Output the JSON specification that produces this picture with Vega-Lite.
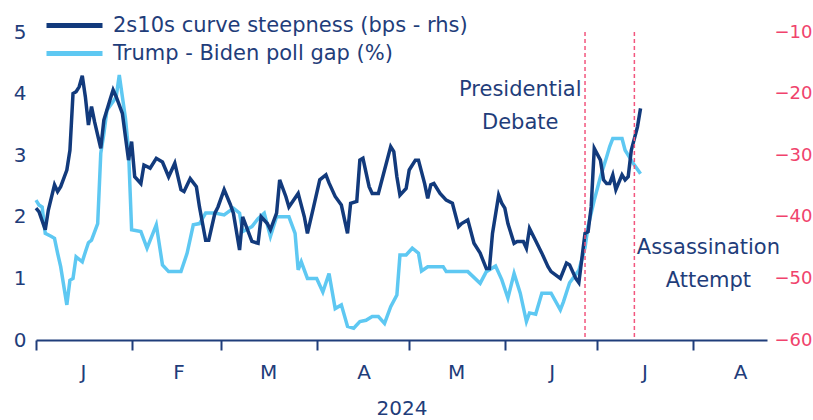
{
  "$schema": "https://vega.github.io/schema/vega-lite/v6.json",
  "width": 731,
  "height": 308,
  "autosize": {"type": "none"},
  "padding": {"left": 36, "top": 32, "right": 46, "bottom": 80},
  "config": {"view": {"stroke": null}, "font": "DejaVu Sans", "axis": {"grid": false}},
  "datasets": {
    "poll": [
      {"d":"2024-01-01","v":2.27},{"d":"2024-01-02","v":2.19},{"d":"2024-01-03","v":2.16},{"d":"2024-01-04","v":1.73},{"d":"2024-01-06","v":1.68},{"d":"2024-01-07","v":1.65},{"d":"2024-01-08","v":1.41},{"d":"2024-01-09","v":1.19},{"d":"2024-01-11","v":0.57},{"d":"2024-01-12","v":0.97},{"d":"2024-01-13","v":1.0},{"d":"2024-01-14","v":1.35},{"d":"2024-01-16","v":1.27},{"d":"2024-01-17","v":1.43},{"d":"2024-01-18","v":1.58},{"d":"2024-01-19","v":1.62},{"d":"2024-01-21","v":1.89},{"d":"2024-01-22","v":3.03},{"d":"2024-01-23","v":3.35},{"d":"2024-01-24","v":3.73},{"d":"2024-01-26","v":3.87},{"d":"2024-01-27","v":3.95},{"d":"2024-01-28","v":4.30},{"d":"2024-01-29","v":3.95},{"d":"2024-01-30","v":3.60},{"d":"2024-01-31","v":3.08},{"d":"2024-02-01","v":1.79},{"d":"2024-02-04","v":1.76},{"d":"2024-02-06","v":1.49},{"d":"2024-02-09","v":1.87},{"d":"2024-02-11","v":1.22},{"d":"2024-02-13","v":1.11},{"d":"2024-02-17","v":1.11},{"d":"2024-02-19","v":1.41},{"d":"2024-02-21","v":1.87},{"d":"2024-02-23","v":1.89},{"d":"2024-02-25","v":2.06},{"d":"2024-02-28","v":2.06},{"d":"2024-03-02","v":2.03},{"d":"2024-03-05","v":2.14},{"d":"2024-03-07","v":2.06},{"d":"2024-03-08","v":1.76},{"d":"2024-03-11","v":1.84},{"d":"2024-03-13","v":1.97},{"d":"2024-03-15","v":2.06},{"d":"2024-03-17","v":1.68},{"d":"2024-03-19","v":2.0},{"d":"2024-03-23","v":2.0},{"d":"2024-03-25","v":1.73},{"d":"2024-03-26","v":1.14},{"d":"2024-03-27","v":1.27},{"d":"2024-03-29","v":1.0},{"d":"2024-04-01","v":1.0},{"d":"2024-04-03","v":0.78},{"d":"2024-04-05","v":1.08},{"d":"2024-04-07","v":0.51},{"d":"2024-04-09","v":0.57},{"d":"2024-04-11","v":0.22},{"d":"2024-04-13","v":0.19},{"d":"2024-04-15","v":0.30},{"d":"2024-04-17","v":0.32},{"d":"2024-04-19","v":0.38},{"d":"2024-04-21","v":0.38},{"d":"2024-04-23","v":0.27},{"d":"2024-04-25","v":0.54},{"d":"2024-04-27","v":0.73},{"d":"2024-04-28","v":1.38},{"d":"2024-04-30","v":1.38},{"d":"2024-05-02","v":1.49},{"d":"2024-05-04","v":1.41},{"d":"2024-05-05","v":1.12},{"d":"2024-05-07","v":1.19},{"d":"2024-05-12","v":1.19},{"d":"2024-05-13","v":1.11},{"d":"2024-05-20","v":1.11},{"d":"2024-05-24","v":0.92},{"d":"2024-05-26","v":1.11},{"d":"2024-05-29","v":1.20},{"d":"2024-05-31","v":0.98},{"d":"2024-06-02","v":0.68},{"d":"2024-06-04","v":1.08},{"d":"2024-06-06","v":0.76},{"d":"2024-06-08","v":0.30},{"d":"2024-06-09","v":0.44},{"d":"2024-06-11","v":0.42},{"d":"2024-06-13","v":0.76},{"d":"2024-06-16","v":0.76},{"d":"2024-06-19","v":0.49},{"d":"2024-06-20","v":0.62},{"d":"2024-06-22","v":0.93},{"d":"2024-06-25","v":1.13},{"d":"2024-06-27","v":1.5},{"d":"2024-06-28","v":1.85},{"d":"2024-06-30","v":2.27},{"d":"2024-07-02","v":2.65},{"d":"2024-07-04","v":2.97},{"d":"2024-07-05","v":3.14},{"d":"2024-07-06","v":3.27},{"d":"2024-07-09","v":3.27},{"d":"2024-07-10","v":3.08},{"d":"2024-07-12","v":2.92},{"d":"2024-07-13","v":2.84},{"d":"2024-07-15","v":2.70}
    ],
    "steep": [
      {"d":"2024-01-01","v":-38.6},{"d":"2024-01-02","v":-39.2},{"d":"2024-01-04","v":-42.1},{"d":"2024-01-05","v":-38.9},{"d":"2024-01-07","v":-34.8},{"d":"2024-01-08","v":-35.9},{"d":"2024-01-09","v":-35.1},{"d":"2024-01-11","v":-32.4},{"d":"2024-01-12","v":-29.2},{"d":"2024-01-13","v":-20.0},{"d":"2024-01-14","v":-19.7},{"d":"2024-01-15","v":-18.9},{"d":"2024-01-16","v":-17.1},{"d":"2024-01-17","v":-20.5},{"d":"2024-01-18","v":-25.1},{"d":"2024-01-19","v":-22.1},{"d":"2024-01-20","v":-24.6},{"d":"2024-01-22","v":-28.9},{"d":"2024-01-23","v":-24.3},{"d":"2024-01-25","v":-21.0},{"d":"2024-01-26","v":-19.4},{"d":"2024-01-27","v":-20.5},{"d":"2024-01-29","v":-23.2},{"d":"2024-01-30","v":-27.0},{"d":"2024-01-31","v":-30.8},{"d":"2024-02-01","v":-27.8},{"d":"2024-02-02","v":-33.5},{"d":"2024-02-04","v":-34.6},{"d":"2024-02-05","v":-31.6},{"d":"2024-02-07","v":-32.1},{"d":"2024-02-09","v":-30.5},{"d":"2024-02-11","v":-31.1},{"d":"2024-02-13","v":-33.5},{"d":"2024-02-15","v":-31.3},{"d":"2024-02-17","v":-35.6},{"d":"2024-02-18","v":-35.9},{"d":"2024-02-20","v":-33.8},{"d":"2024-02-22","v":-35.1},{"d":"2024-02-23","v":-38.4},{"d":"2024-02-25","v":-43.8},{"d":"2024-02-26","v":-43.8},{"d":"2024-02-28","v":-39.4},{"d":"2024-02-29","v":-38.4},{"d":"2024-03-02","v":-35.6},{"d":"2024-03-04","v":-38.0},{"d":"2024-03-05","v":-39.4},{"d":"2024-03-07","v":-45.4},{"d":"2024-03-08","v":-40.0},{"d":"2024-03-11","v":-44.0},{"d":"2024-03-13","v":-44.3},{"d":"2024-03-14","v":-40.0},{"d":"2024-03-16","v":-41.1},{"d":"2024-03-17","v":-42.1},{"d":"2024-03-19","v":-39.4},{"d":"2024-03-20","v":-34.0},{"d":"2024-03-22","v":-36.7},{"d":"2024-03-23","v":-38.4},{"d":"2024-03-26","v":-36.2},{"d":"2024-03-28","v":-40.0},{"d":"2024-03-29","v":-42.7},{"d":"2024-03-31","v":-38.4},{"d":"2024-04-02","v":-34.0},{"d":"2024-04-04","v":-33.2},{"d":"2024-04-05","v":-34.5},{"d":"2024-04-07","v":-36.7},{"d":"2024-04-09","v":-38.1},{"d":"2024-04-11","v":-42.7},{"d":"2024-04-12","v":-37.8},{"d":"2024-04-14","v":-37.5},{"d":"2024-04-15","v":-30.8},{"d":"2024-04-16","v":-30.5},{"d":"2024-04-18","v":-35.1},{"d":"2024-04-19","v":-36.2},{"d":"2024-04-21","v":-36.2},{"d":"2024-04-23","v":-32.4},{"d":"2024-04-25","v":-28.6},{"d":"2024-04-26","v":-29.4},{"d":"2024-04-27","v":-33.5},{"d":"2024-04-28","v":-36.5},{"d":"2024-04-30","v":-35.4},{"d":"2024-05-01","v":-32.4},{"d":"2024-05-03","v":-30.8},{"d":"2024-05-04","v":-30.8},{"d":"2024-05-06","v":-34.6},{"d":"2024-05-07","v":-37.0},{"d":"2024-05-08","v":-34.8},{"d":"2024-05-09","v":-34.6},{"d":"2024-05-11","v":-36.2},{"d":"2024-05-13","v":-37.3},{"d":"2024-05-15","v":-37.8},{"d":"2024-05-17","v":-41.6},{"d":"2024-05-18","v":-41.1},{"d":"2024-05-20","v":-40.5},{"d":"2024-05-22","v":-44.3},{"d":"2024-05-24","v":-45.9},{"d":"2024-05-26","v":-48.4},{"d":"2024-05-27","v":-48.4},{"d":"2024-05-28","v":-42.7},{"d":"2024-05-30","v":-36.5},{"d":"2024-05-31","v":-37.8},{"d":"2024-06-01","v":-38.6},{"d":"2024-06-02","v":-41.1},{"d":"2024-06-04","v":-44.3},{"d":"2024-06-05","v":-44.0},{"d":"2024-06-07","v":-44.0},{"d":"2024-06-08","v":-45.1},{"d":"2024-06-09","v":-41.9},{"d":"2024-06-11","v":-43.9},{"d":"2024-06-13","v":-45.9},{"d":"2024-06-15","v":-48.1},{"d":"2024-06-16","v":-48.9},{"d":"2024-06-19","v":-50.0},{"d":"2024-06-21","v":-47.5},{"d":"2024-06-22","v":-47.8},{"d":"2024-06-24","v":-50.0},{"d":"2024-06-25","v":-50.7},{"d":"2024-06-27","v":-42.7},{"d":"2024-06-28","v":-42.4},{"d":"2024-06-29","v":-38.4},{"d":"2024-06-30","v":-28.9},{"d":"2024-07-02","v":-30.8},{"d":"2024-07-03","v":-34.0},{"d":"2024-07-04","v":-34.6},{"d":"2024-07-05","v":-34.6},{"d":"2024-07-06","v":-33.2},{"d":"2024-07-07","v":-35.6},{"d":"2024-07-09","v":-33.2},{"d":"2024-07-10","v":-34.0},{"d":"2024-07-11","v":-33.5},{"d":"2024-07-12","v":-29.2},{"d":"2024-07-14","v":-25.4},{"d":"2024-07-15","v":-22.4}
    ],
    "events": [{"d":"2024-06-27"},{"d":"2024-07-13"}],
    "notes": [
      {"d":"2024-06-06","y":4.06,"t":"Presidential|Debate"},
      {"d":"2024-08-06","y":1.49,"t":"Assassination|Attempt"}
    ]
  },
  "layer": [
    {
      "data": {"name": "poll"},
      "mark": {"type": "line", "strokeWidth": 3.5, "interpolate": "linear"},
      "encoding": {
        "x": {"field": "d", "type": "temporal",
          "scale": {"type": "utc", "domain": ["2024-01-01", "2024-08-25"]},
          "axis": {
            "values": [
              {"year":2024,"month":1,"date":1,"utc":true},{"year":2024,"month":2,"date":1,"utc":true},{"year":2024,"month":3,"date":1,"utc":true},{"year":2024,"month":4,"date":1,"utc":true},{"year":2024,"month":5,"date":1,"utc":true},{"year":2024,"month":6,"date":1,"utc":true},{"year":2024,"month":7,"date":1,"utc":true},{"year":2024,"month":8,"date":1,"utc":true}
            ],
            "labelExpr": "slice(utcFormat(datum.value, '%b'), 0, 1)",
            "domainColor": "#1f3d7a", "domainWidth": 2,
            "tickColor": "#1f3d7a", "tickWidth": 2, "tickSize": 10,
            "labelColor": "#1f3d7a", "labelFontSize": 20, "labelOffset": 47, "labelPadding": 12,
            "labelAlign": "center", "labelOverlap": false, "labelBound": false, "labelFlush": false,
            "title": "2024", "titleFontSize": 20, "titleColor": "#1f3d7a", "titleFontWeight": "normal", "titlePadding": 16
          }
        },
        "y": {"field": "v", "type": "quantitative",
          "scale": {"domain": [0, 5], "nice": false, "zero": false},
          "axis": {"orient": "left", "values": [0,1,2,3,4,5], "domain": false, "ticks": false,
            "labelColor": "#1f3d7a", "labelFontSize": 20, "labelPadding": 10, "title": null}
        },
        "color": {"datum": "Trump - Biden poll gap (%)", "type": "nominal",
          "scale": {"domain": ["2s10s curve steepness (bps - rhs)", "Trump - Biden poll gap (%)"], "range": ["#123a7c", "#5ec8f2"]},
          "legend": {"orient": "none", "legendX": 8, "legendY": -17, "title": null,
            "symbolType": "stroke", "symbolSize": 3136, "symbolStrokeWidth": 5, "clipHeight": 21,
            "labelFontSize": 21, "labelColor": "#1f3d7a", "labelLimit": 0, "rowPadding": 6, "labelOffset": 8}
        }
      }
    },
    {
      "data": {"name": "steep"},
      "mark": {"type": "line", "strokeWidth": 3.5},
      "encoding": {
        "x": {"field": "d", "type": "temporal"},
        "y": {"field": "v", "type": "quantitative",
          "scale": {"domain": [-60, -10], "nice": false, "zero": false},
          "axis": {"orient": "right", "values": [-60,-50,-40,-30,-20,-10], "domain": false, "ticks": false,
            "labelColor": "#f0436c", "labelFontSize": 18, "labelPadding": 7, "title": null}
        },
        "color": {"datum": "2s10s curve steepness (bps - rhs)", "type": "nominal"}
      }
    },
    {
      "data": {"name": "events"},
      "mark": {"type": "rule", "color": "#f2567e", "strokeWidth": 1.5, "strokeDash": [4, 3]},
      "encoding": {"x": {"field": "d", "type": "temporal"}}
    },
    {
      "data": {"name": "notes"},
      "mark": {"type": "text", "lineBreak": "|", "fontSize": 21, "lineHeight": 33, "color": "#1f3d7a", "align": "center", "baseline": "middle"},
      "encoding": {
        "x": {"field": "d", "type": "temporal"},
        "y": {"field": "y", "type": "quantitative", "scale": {"domain": [0, 5], "nice": false, "zero": false}, "axis": null},
        "text": {"field": "t", "type": "nominal"}
      }
    }
  ],
  "resolve": {"scale": {"y": "independent"}}
}
